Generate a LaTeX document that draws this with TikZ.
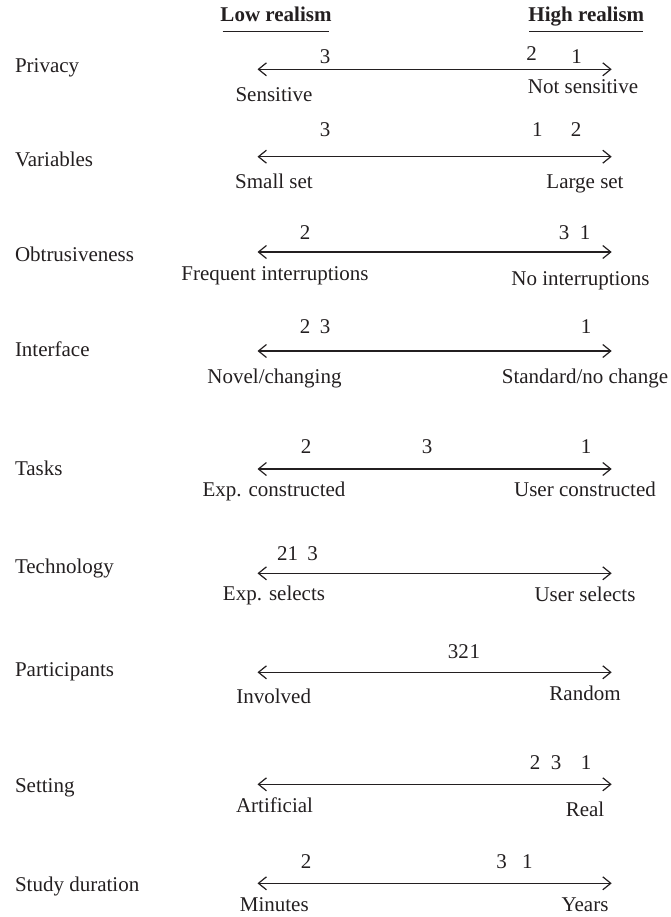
\documentclass[tikz,border=0pt]{standalone}
\usepackage{fontspec}
\setmainfont{Liberation Serif}
\usetikzlibrary{arrows.meta}
\definecolor{ink}{HTML}{231F20}
\begin{document}
\begin{tikzpicture}[x=1pt,y=-1pt,
  txt/.style={inner sep=0pt,outer sep=0pt,anchor=base,text=ink,font=\fontsize{21}{24}\selectfont},
  rowlabel/.style={txt,anchor=base west},
  head/.style={txt,font=\fontsize{21}{24}\selectfont\bfseries},
  uline/.style={draw=ink,line width=1.1pt},
  twoway/.style={draw=ink,line width=1.2pt,{Straight Barb[length=8pt,width=13pt,line width=1.2pt]}-{Straight Barb[length=8pt,width=13pt,line width=1.2pt]}}]
\useasboundingbox (0,0) rectangle (670,917);
% header
\node[head] (low) at (276,22) {Low realism};
\node[head] (high) at (586.3,22) {High realism};
\coordinate (lowA) at (222.7,31.7); \coordinate (lowB) at (329.3,31.7);
\coordinate (highA) at (529.3,31.7); \coordinate (highB) at (643.3,31.7);
\draw[uline] (lowA) -- (lowB);
\draw[uline] (highA) -- (highB);
% Privacy
\node[rowlabel] (privacy) at (15,72.7) {Privacy};
\coordinate (pL) at (257.5,69.3); \coordinate (pR) at (611.7,69.3);
\draw[twoway] (pL) -- (pR);
\node[txt] (p3) at (325,63.5) {3};
\node[txt] (p2) at (531.7,61) {2};
\node[txt] (p1) at (576.7,64) {1};
\node[txt] (pLo) at (274,101.7) {Sensitive};
\node[txt] (pHi) at (583,93.3) {Not sensitive};
% Variables
\node[rowlabel] (variables) at (15,166.7) {Variables};
\coordinate (vL) at (257.5,156.7); \coordinate (vR) at (611.7,156.7);
\draw[twoway] (vL) -- (vR);
\node[txt] (v3) at (325,137) {3};
\node[txt] (v1) at (537.3,137) {1};
\node[txt] (v2) at (576,137) {2};
\node[txt] (vLo) at (274,188.3) {Small set};
\node[txt] (vHi) at (585,188.3) {Large set};
% Obtrusiveness
\node[rowlabel] (obtr) at (15,261.7) {Obtrusiveness};
\coordinate (oL) at (257.5,252); \coordinate (oR) at (611.7,252);
\draw[twoway] (oL) -- (oR);
\node[txt] (o2) at (305,240) {2};
\node[txt] (o3) at (564,240) {3};
\node[txt] (o1) at (585,240) {1};
\node[txt] (oLo) at (275,280.7) {Frequent interruptions};
\node[txt] (oHi) at (580.5,285) {No interruptions};
% Interface
\node[rowlabel] (interface) at (15,356.7) {Interface};
\coordinate (iL) at (257.5,351); \coordinate (iR) at (611.7,351);
\draw[twoway] (iL) -- (iR);
\node[txt] (i2) at (305,333) {2};
\node[txt] (i3) at (325,333) {3};
\node[txt] (i1) at (586,333) {1};
\node[txt] (iLo) at (274.5,383.3) {Novel/changing};
\node[txt] (iHi) at (585,383.3) {Standard/no change};
% Tasks
\node[rowlabel] (tasks) at (15,475) {Tasks};
\coordinate (tL) at (257.5,469); \coordinate (tR) at (611.7,469);
\draw[twoway] (tL) -- (tR);
\node[txt] (t2) at (306,453) {2};
\node[txt] (t3) at (427,453) {3};
\node[txt] (t1) at (586,453) {1};
\node[txt] (tLo) at (274,496) {Exp. constructed};
\node[txt] (tHi) at (585,496) {User constructed};
% Technology
\node[rowlabel] (techn) at (15,573.3) {Technology};
\coordinate (cL) at (257.5,573.3); \coordinate (cR) at (611.7,573.3);
\draw[twoway] (cL) -- (cR);
\node[txt] (c21) at (287.5,560) {21};
\node[txt] (c3) at (312.7,560) {3};
\node[txt] (cLo) at (274,600.7) {Exp. selects};
\node[txt] (cHi) at (585,601.5) {User selects};
% Participants
\node[rowlabel] (partic) at (15,676.7) {Participants};
\coordinate (aL) at (257.5,672.3); \coordinate (aR) at (611.7,672.3);
\draw[twoway] (aL) -- (aR);
\node[txt] (a321) at (464,658) {32\kern1pt1};
\node[txt] (aLo) at (273.7,703.3) {Involved};
\node[txt] (aHi) at (585,700) {Random};
% Setting
\node[rowlabel] (setting) at (15,792.7) {Setting};
\coordinate (sL) at (257.5,784.3); \coordinate (sR) at (611.7,784.3);
\draw[twoway] (sL) -- (sR);
\node[txt] (s2) at (535,769) {2};
\node[txt] (s3) at (556,769) {3};
\node[txt] (s1) at (586,769) {1};
\node[txt] (sLo) at (274.5,812.3) {Artificial};
\node[txt] (sHi) at (585,816) {Real};
% Study duration
\node[rowlabel] (study) at (15,891.7) {Study duration};
\coordinate (dL) at (257.5,883.3); \coordinate (dR) at (611.7,883.3);
\draw[twoway] (dL) -- (dR);
\node[txt] (d2) at (306,868) {2};
\node[txt] (d3) at (501.7,868) {3};
\node[txt] (d1) at (527.3,868) {1};
\node[txt] (dLo) at (274.3,911.7) {Minutes};
\node[txt] (dHi) at (585,911.7) {Years};
\end{tikzpicture}
\end{document}
